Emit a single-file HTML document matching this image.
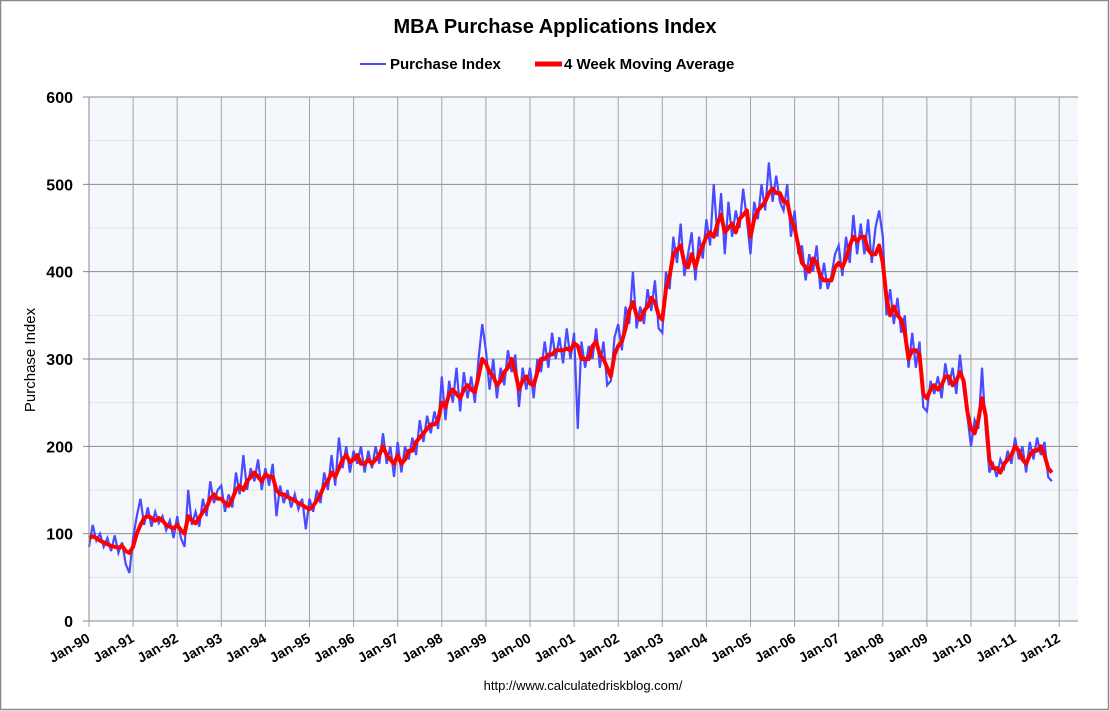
<!DOCTYPE html>
<html><head><meta charset="utf-8"><style>
body{margin:0;background:#fff;}
svg{display:block;font-family:"Liberation Sans",sans-serif;}
</style></head><body>
<svg id="chart" width="1110" height="711" xmlns="http://www.w3.org/2000/svg">
<rect x="0.5" y="0.5" width="1108" height="709" fill="#fff" stroke="#888" stroke-width="1.5"/>
<text x="555" y="33" text-anchor="middle" font-size="20" font-weight="bold">MBA Purchase Applications Index</text>
<g>
<line x1="360" y1="64" x2="386" y2="64" stroke="#4a4aff" stroke-width="2"/>
<text x="390" y="69" font-size="15" font-weight="bold">Purchase Index</text>
<line x1="535" y1="64" x2="562" y2="64" stroke="#f00" stroke-width="5"/>
<text x="564" y="69" font-size="15" font-weight="bold">4 Week Moving Average</text>
</g>
<rect x="89" y="97" width="989" height="524" fill="#f4f8fd"/>
<g id="grid"></g>
<g id="series"></g>
<g id="axes"></g>
<text transform="translate(35,360) rotate(-90)" text-anchor="middle" font-size="15">Purchase Index</text>
<text x="583" y="690" text-anchor="middle" font-size="13">http://www.calculatedriskblog.com/</text>
</svg>
<script>
const yTicks=[0,100,200,300,400,500,600];
const xLabels=["Jan-90","Jan-91","Jan-92","Jan-93","Jan-94","Jan-95","Jan-96","Jan-97","Jan-98","Jan-99","Jan-00","Jan-01","Jan-02","Jan-03","Jan-04","Jan-05","Jan-06","Jan-07","Jan-08","Jan-09","Jan-10","Jan-11","Jan-12"];
const maValues=[
95,97,95,92,90,88,86,85,84,86,80,78,
85,100,110,118,120,118,115,118,115,110,108,106,
110,104,100,120,115,112,118,125,130,140,145,140,
140,135,132,140,150,155,150,160,165,170,165,160,
168,165,165,150,145,145,142,140,138,135,133,130,
128,132,138,145,155,160,170,165,175,185,190,182,
185,190,180,180,185,180,185,190,200,190,185,180,
190,180,185,195,195,205,210,215,220,225,225,230,
250,245,260,265,260,255,265,270,265,262,280,300,
295,285,280,270,275,285,290,300,285,265,275,280,
272,270,285,300,300,305,305,310,310,310,312,310,
318,315,300,300,300,315,320,305,300,290,280,305,
315,320,335,355,365,350,345,355,360,370,365,350,
345,380,395,420,425,430,410,405,420,405,420,430,
440,445,440,455,465,445,450,455,445,460,465,470,
440,460,470,475,480,490,495,490,490,480,480,460,
450,430,410,405,400,415,410,395,390,390,390,405,
410,405,415,430,440,435,440,440,425,420,420,430,
410,370,350,360,350,345,330,300,310,310,305,260,
255,265,270,265,270,280,280,270,275,285,275,240,
220,215,230,255,235,185,175,175,170,180,185,190,
200,195,185,180,190,195,195,200,190,175,170];
const purchaseValues=[
85,110,92,100,85,95,80,98,78,90,65,55,
95,120,140,110,130,108,125,112,120,104,115,95,
120,95,85,150,110,125,108,140,120,160,135,150,
155,125,145,130,170,145,190,150,175,160,185,150,
175,155,180,120,155,135,150,130,145,128,140,105,
140,125,150,135,170,150,190,155,210,175,200,170,
195,180,200,170,195,175,200,180,215,180,200,165,
205,170,200,185,210,190,230,205,235,215,240,220,
280,230,275,250,290,240,285,255,280,250,300,340,
310,265,300,255,290,270,310,285,305,245,290,265,
290,255,300,285,320,290,330,300,325,295,335,300,
330,220,320,290,315,300,335,290,320,270,275,325,
340,310,360,340,400,335,360,340,380,355,390,335,
330,400,380,440,410,455,395,420,445,390,440,415,
460,430,500,440,490,420,480,440,470,450,495,460,
420,480,460,500,470,525,480,510,480,470,500,440,
470,420,430,390,420,400,430,380,410,380,395,420,
430,395,440,410,465,420,455,420,460,410,450,470,
440,350,380,340,370,330,350,290,330,290,320,245,
240,275,260,280,255,295,270,290,260,305,265,235,
200,230,220,290,220,170,180,165,185,175,195,180,
210,185,200,170,205,185,210,190,205,165,160];

const L=89,R=1078,T=97,B=621;
const yearW=44.1;
const x=i=>L+(i/12)*yearW;
const y=v=>B-(v/600)*(B-T);
const NS="http://www.w3.org/2000/svg";
function mk(tag,attrs,parent){const e=document.createElementNS(NS,tag);for(const k in attrs)e.setAttribute(k,attrs[k]);parent.appendChild(e);return e;}
const grid=document.getElementById('grid'),axes=document.getElementById('axes'),series=document.getElementById('series');
for(let v=50;v<600;v+=100){
 const g=mk('line',{x1:L,x2:R,y1:y(v),y2:y(v),stroke:'#dde3ea','stroke-width':1},grid);
 
 
}
yTicks.forEach(v=>{
 const g=mk('line',{x1:L-6,x2:R,y1:y(v),y2:y(v),stroke:'#8a8a8a','stroke-width':1},grid);
 
 
 const t=mk('text',{x:L-16,y:y(v)+6,'text-anchor':'end','font-size':16,'font-weight':'bold'},axes);
 t.textContent=v;
 
 
});
xLabels.forEach((s,k)=>{
 const xx=L+k*yearW;
 const g=mk('line',{x1:xx,x2:xx,y1:T,y2:B+6,stroke:'#a0a4aa','stroke-width':1},grid);
 
 
 const t=mk('text',{transform:`translate(${xx+2},${B+20}) rotate(-30)`,'text-anchor':'end','font-size':14,'font-weight':'bold'},axes);
 t.textContent=s;
 
 
});
const ax=mk('line',{x1:L,x2:L,y1:T,y2:B,stroke:'#8a8a8a','stroke-width':1},axes);


const p1=mk('polyline',{points:purchaseValues.map((v,i)=>x(i)+','+y(v)).join(' '),fill:'none',stroke:'#4a4aff','stroke-width':2.2},series);


const p2=mk('polyline',{points:maValues.map((v,i)=>x(i)+','+y(v)).join(' '),fill:'none',stroke:'#f00','stroke-width':4,'stroke-linejoin':'round'},series);


</script>
</body></html>
